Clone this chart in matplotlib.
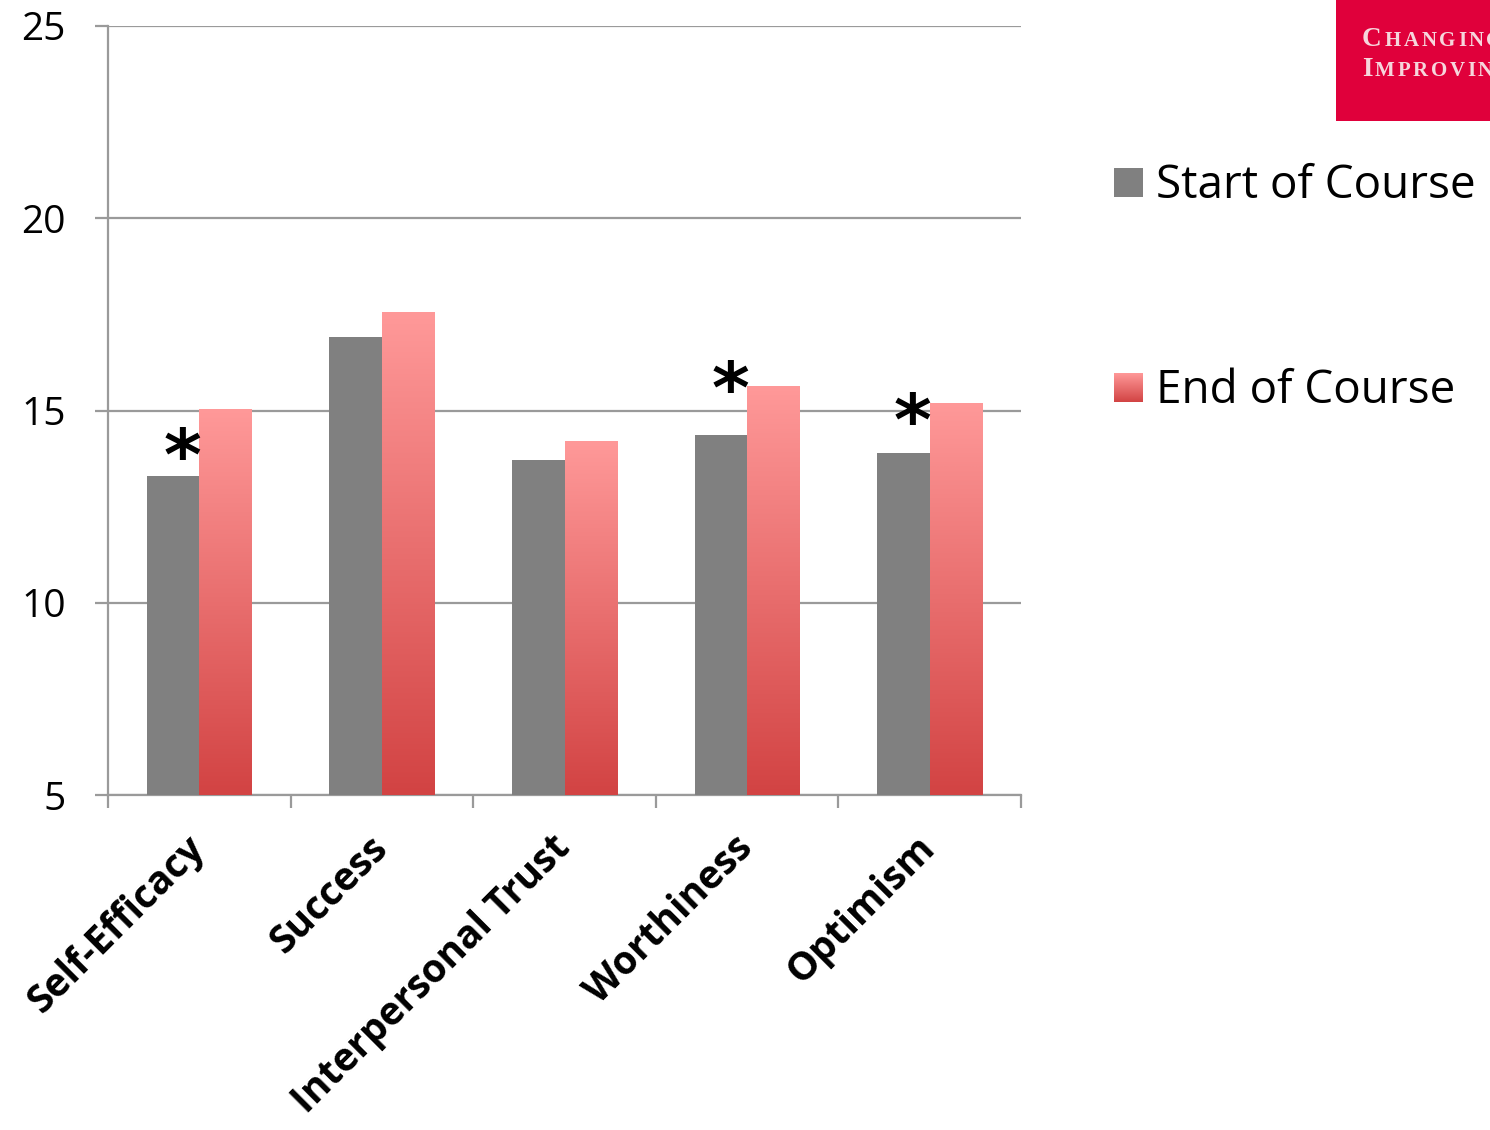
import matplotlib
matplotlib.use("Agg")
import matplotlib.pyplot as plt
import numpy as np
from matplotlib.colors import LinearSegmentedColormap
from matplotlib.patches import Rectangle

categories = ["Self-Efficacy", "Success", "Interpersonal Trust", "Worthiness", "Optimism"]
start_vals = [13.3, 16.9, 13.7, 14.35, 13.9]
end_vals = [15.05, 17.55, 14.2, 15.65, 15.2]
series_names = ["Start of Course", "End of Course"]
significant = [True, False, False, True, True]
star_offsets = [0.4, 0.0, 0.0, 1.1, 0.7]  # asterisk height above grey bar
yticks = [5, 10, 15, 20, 25]

W, H = 1490, 1130
fig = plt.figure(figsize=(W / 100, H / 100), dpi=100)
plt.rcParams['font.family'] = ['Open Sans', 'DejaVu Sans']

ax = fig.add_axes([108 / W, 1 - 795 / H, (1021 - 108) / W, (795 - 26) / H])
grid_c = '#9A9A9A'
grey = '#808080'
cmap = LinearSegmentedColormap.from_list('pinkred', ['#D24343', '#FF9999'])

x = np.arange(len(categories))
w = 0.2875
ax.set_ylim(5, 25)
ax.set_xlim(-0.5, len(categories) - 0.5)

bars_s = ax.bar(x - w / 2, start_vals, width=w, color=grey, zorder=3, linewidth=0)
bars_e = ax.bar(x + w / 2, end_vals, width=w, color='none', zorder=3, linewidth=0)

grad = np.linspace(0, 1, 256).reshape(-1, 1)
ymin = ax.get_ylim()[0]
for p in bars_e:
    x0 = p.get_x()
    x1 = x0 + p.get_width()
    top = p.get_y() + p.get_height()
    im = ax.imshow(grad, cmap=cmap, origin='lower', aspect='auto',
                   extent=[x0, x1, ymin, top], zorder=3, interpolation='bicubic')
    im.set_clip_path(p)
ax.set_xlim(-0.5, len(categories) - 0.5)
ax.set_ylim(5, 25)

# asterisks
for i, (sig, off) in enumerate(zip(significant, star_offsets)):
    if sig:
        ax.text(x[i] - w / 2 + 0.05, start_vals[i] + off, '*', fontsize=52,
                fontweight='bold', ha='center', va='center', zorder=5,
                family=['DejaVu Sans'])

# grid & spines
ax.set_yticks(yticks)
ax.yaxis.grid(True, color=grid_c, linewidth=1.6, zorder=0)
ax.set_axisbelow(True)
for s in ['top', 'right']:
    ax.spines[s].set_visible(False)
ax.spines['left'].set_color(grid_c)
ax.spines['bottom'].set_color(grid_c)
ax.spines['left'].set_linewidth(1.6)
ax.spines['bottom'].set_linewidth(1.6)
ax.spines['left'].set_bounds(5, 25)

ax.tick_params(axis='y', length=9.5, width=1.6, color=grid_c, labelsize=28, pad=21)
ax.set_xticks(x)
ax.set_xticklabels(categories, rotation=45, ha='right', va='center',
                   rotation_mode='anchor', fontsize=28, fontweight='bold')
ax.tick_params(axis='x', which='major', length=0, pad=34)
ax.set_xticks(np.arange(len(categories) + 1) - 0.5, minor=True)
ax.tick_params(axis='x', which='minor', length=9.5, width=1.6, color=grid_c, direction='out')

# legend (manual)
lax1 = fig.add_axes([1114 / W, 1 - 197 / H, 29 / W, 29 / H])
lax1.add_patch(Rectangle((0, 0), 1, 1, color=grey))
lax1.set_axis_off()
lax2 = fig.add_axes([1114 / W, 1 - 402 / H, 29 / W, 29 / H])
lax2.imshow(grad, cmap=cmap, origin='lower', aspect='auto', extent=[0, 1, 0, 1])
lax2.set_axis_off()
fig.text(1156 / W, 1 - 186 / H, series_names[0], fontsize=33, va='center', ha='left')
fig.text(1156 / W, 1 - 391 / H, series_names[1], fontsize=33, va='center', ha='left')

# logo block
logo = fig.add_axes([1336 / W, 1 - 121 / H, (W - 1336) / W, 121 / H])
logo.set_facecolor('#E0003B')
logo.set_xticks([]); logo.set_yticks([])
for s in logo.spines.values():
    s.set_visible(False)
logo.set_xlim(0, 154); logo.set_ylim(121, 0)
lc = '#F6D6DC'
serif = ['Liberation Serif', 'DejaVu Serif']


def small_caps(word, x0, y0, big=19.5, small=15, track=1.5):
    renderer = fig.canvas.get_renderer()
    xpos = x0
    for k, ch in enumerate(word):
        t = logo.text(xpos, y0, ch, fontsize=big if k == 0 else small,
                      fontweight='bold', color=lc, family=serif,
                      va='baseline', ha='left', clip_on=True)
        bb = t.get_window_extent(renderer=renderer)
        xpos += bb.width * 1.08 + track


small_caps('CHANGING', 26, 46)
small_caps('IMPROVING', 26, 76)

fig.savefig('out.png', dpi=100, facecolor='white')
